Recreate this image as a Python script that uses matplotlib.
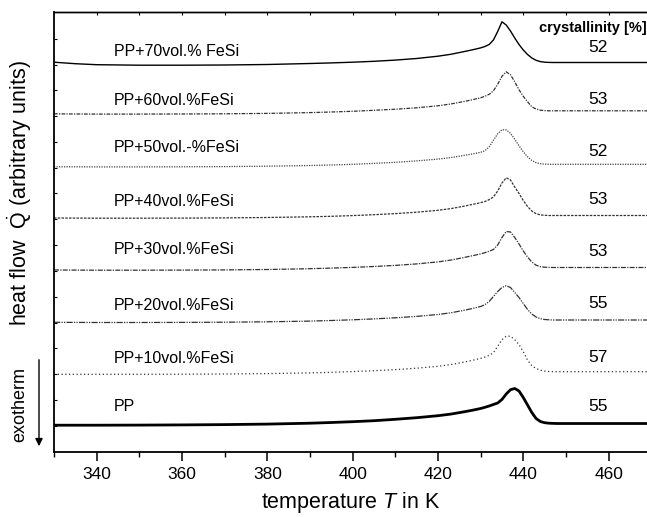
import numpy as np
import matplotlib
matplotlib.use("Agg")
from matplotlib import pyplot as plt

plt.rcParams['font.family'] = ['Liberation Sans', 'DejaVu Sans']
plt.rcParams['mathtext.fontset'] = 'custom'
plt.rcParams['mathtext.rm'] = 'Liberation Sans'
plt.rcParams['mathtext.it'] = 'Liberation Sans:italic'

# temperature grid in K
temperature = [330, 335, 340, 350, 360, 370, 380, 390, 395, 400, 405, 410, 415, 420,
               423, 426, 428, 430, 431, 432, 433, 434, 435, 436, 437, 438, 439, 440,
               441, 442, 443, 444, 445, 446, 447, 448, 450, 460, 469]

# heat flow (arbitrary units) above each curve's own baseline
q_pp = [-1.7, -1.7, -1.7, -1.6, -1.4, -1.1, -0.6, 0.3, 1.0, 1.8, 2.8, 4.2, 5.8, 7.8,
        9.4, 11.6, 13.2, 15.0, 16.2, 17.5, 19.0, 20.5, 24.0, 29.5, 33.8, 35.0, 32.5, 26.0,
        18.5, 11.0, 5.0, 2.0, 0.8, 0.3, 0.1, 0, 0, 0, 0]
q_10 = [-2.6, -2.6, -2.6, -2.6, -2.5, -2.3, -1.9, -1.2, -0.6, 0.1, 1.0, 2.1, 3.5, 5.4,
        7.1, 9.5, 11.3, 13.3, 14.6, 16.3, 19.0, 25.5, 32.0, 35.5, 35.5, 32.0, 27.0, 20.0,
        11.5, 6.0, 3.2, 1.5, 0.6, 0.2, 0, 0, 0, 0, 0]
q_20 = [-2.3, -2.4, -2.5, -2.5, -2.4, -2.2, -1.8, -1.1, -0.5, 0.2, 1.1, 2.2, 3.6, 5.5,
        7.2, 9.6, 11.4, 13.5, 15.3, 18.5, 23.5, 28.5, 32.5, 34.3, 32.5, 27.5, 22.5, 16.5,
        10.5, 6.0, 3.0, 1.3, 0.5, 0.2, 0, 0, 0, 0, 0]
q_30 = [-2.5, -2.6, -2.7, -2.7, -2.6, -2.4, -2.0, -1.2, -0.6, 0.1, 1.0, 2.1, 3.6, 5.6,
        7.4, 9.9, 11.7, 13.6, 14.8, 16.3, 18.0, 22.5, 30.0, 36.0, 35.5, 30.0, 23.5, 16.5,
        10.5, 5.5, 2.3, 0.8, 0.3, 0.1, 0, 0, 0, 0, 0]
q_40 = [-2.5, -2.6, -2.7, -2.7, -2.6, -2.4, -2.0, -1.3, -0.8, -0.1, 0.8, 1.9, 3.3, 5.2,
        6.9, 9.2, 11.0, 12.8, 14.0, 15.8, 18.5, 24.5, 32.5, 37.7, 35.5, 28.5, 22.0, 15.0,
        9.0, 4.5, 1.8, 0.6, 0.2, 0, 0, 0, 0, 0, 0]
q_50 = [-2.5, -2.5, -2.6, -2.6, -2.5, -2.3, -1.9, -1.2, -0.7, 0.0, 0.9, 2.0, 3.4, 5.2,
        6.7, 8.8, 10.3, 12.0, 13.5, 17.5, 24.0, 30.5, 34.5, 34.5, 31.0, 25.0, 18.5, 12.5,
        7.5, 3.8, 1.6, 0.6, 0.2, 0, 0, 0, 0, 0, 0]
q_60 = [-3.0, -3.2, -3.3, -3.3, -3.2, -3.0, -2.6, -1.8, -1.2, -0.5, 0.5, 1.6, 3.0, 5.0,
        6.8, 9.2, 11.0, 13.0, 14.5, 16.5, 20.0, 26.5, 34.5, 39.0, 36.0, 29.0, 21.0, 14.5,
        9.0, 4.0, 1.8, 0.6, 0.2, 0, 0, 0, 0, 0, 0]
q_70 = [0.3, -1.2, -2.2, -2.7, -2.7, -2.5, -2.0, -1.0, -0.4, 0.3, 1.2, 2.4, 4.0, 6.3,
        8.2, 10.8, 12.6, 14.6, 16.0, 18.0, 22.5, 31.0, 40.7, 37.5, 31.5, 24.5, 18.0, 12.5,
        8.0, 4.5, 2.2, 0.9, 0.3, 0.1, 0, 0, 0, 0, 0]

samples = ['PP', 'PP+10vol.%FeSi', 'PP+20vol.%FeSi', 'PP+30vol.%FeSi',
           'PP+40vol.%FeSi', 'PP+50vol.-%FeSi', 'PP+60vol.%FeSi', 'PP+70vol.% FeSi']
series = [q_pp, q_10, q_20, q_30, q_40, q_50, q_60, q_70]
offsets = [0, 51.8, 103.5, 156, 208, 259.2, 312.7, 361]
crystallinity = [55, 57, 55, 53, 53, 52, 53, 52]

# styling
styles = [
    dict(ls='-', lw=2.0, color='black'),
    dict(ls=(0, (1, 2)), lw=0.9, color='#333333'),
    dict(ls=(0, (5, 1, 1, 1, 1, 1)), lw=0.9, color='#333333'),
    dict(ls=(0, (4, 1, 1, 1)), lw=0.9, color='#333333'),
    dict(ls=(0, (2, 1)), lw=0.9, color='#333333'),
    dict(ls=(0, (1, 1)), lw=0.9, color='#444444'),
    dict(ls=(0, (3, 1, 1, 1)), lw=0.9, color='#333333'),
    dict(ls='-', lw=1.0, color='black'),
]
label_dy = [16.8, 13.4, 14, 17.5, 13.8, 17, 10.1, 10.8]
number_dy = [16.8, 14, 16.7, 15.8, 15.5, 12.6, 10.8, 14.5]

W, H = 647, 517
fig = plt.figure(figsize=(W / 100, H / 100), dpi=100)
ax = fig.add_axes([54 / W, (H - 452) / H, 1 - 54 / W, 440 / H])

T = np.array(temperature)
for q, off, st in zip(series, offsets, styles):
    ax.plot(T, np.array(q) + off, **st)

for name, off, dy in zip(samples, offsets, label_dy):
    ax.text(344, off + dy, name, fontsize=11.5, ha='left', va='center')
for c, off, dy in zip(crystallinity, offsets, number_dy):
    ax.text(457.5, off + dy, str(c), fontsize=12.5, ha='center', va='center')
ax.text(468.9, 395.5, 'crystallinity [%]', fontsize=10.5, fontweight='bold',
        ha='right', va='center')

ax.set_xlim(330, 469)
ax.set_ylim(-28.5, 411.5)
ax.set_xticks(np.arange(340, 461, 20))
ax.set_xticks(np.arange(330, 469, 10), minor=True)
ax.set_yticks(np.arange(-2.2, 400, 25.8))
ax.set_yticklabels([])
ax.tick_params(axis='x', which='major', direction='out', length=6.5, width=1.1,
               labelsize=12.5, pad=4)
ax.tick_params(axis='x', which='minor', direction='out', length=3.5, width=1.0)
ax.tick_params(axis='y', direction='in', length=2.5, width=0.8)

top = ax.secondary_xaxis('top')
top.set_xticks(np.arange(340, 461, 10))
top.set_xticklabels([])
top.tick_params(direction='in', length=2.5, width=0.8)

for s in ['left', 'bottom']:
    ax.spines[s].set_linewidth(1.3)
ax.spines['top'].set_linewidth(1.0)
top.spines['top'].set_linewidth(1.0)
ax.spines['right'].set_visible(False)

ax.set_xlabel('temperature $T$ in K', fontsize=15.5, labelpad=6)
fig.text(20 / W, 1 - 193 / H, r'heat flow  $\dot{\mathrm{Q}}$ (arbitrary units)',
         rotation=90, ha='center', va='center', fontsize=15.5)
fig.text(20 / W, 1 - 405 / H, 'exotherm', rotation=90, ha='center', va='center',
         fontsize=13)
fig.add_artist(matplotlib.patches.FancyArrowPatch(
    (39 / W, 1 - 357 / H), (39 / W, 1 - 449 / H), transform=fig.transFigure,
    arrowstyle='-|>', mutation_scale=11, lw=1.0, color='black'))

fig.savefig('out.png', dpi=100)
